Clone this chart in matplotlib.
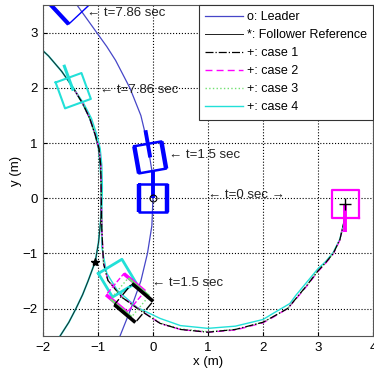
import numpy as np
import matplotlib
matplotlib.use('Agg')
import matplotlib.pyplot as plt

plt.rcParams['font.family'] = ['Liberation Sans', 'DejaVu Sans']

# leader path (o)
leader_x = [-0.60, -0.40, -0.22, -0.10, -0.02, 0.00, -0.02, -0.10, -0.22, -0.42, -0.55, -0.68, -0.84, -1.02, -1.20, -1.38, -1.55]
leader_y = [-2.50, -2.00, -1.50, -1.00, -0.50, 0.00, 0.50, 1.00, 1.50, 2.00, 2.25, 2.50, 2.75, 3.00, 3.25, 3.50, 3.70]

# follower reference (*)
ref_x = [-1.69, -1.53, -1.40, -1.28, -1.18, -1.05, -0.99, -0.95, -0.94, -0.94, -0.96, -0.99, -1.05, -1.15, -1.28, -1.45, -1.66, -1.90, -2.05]
ref_y = [-2.50, -2.25, -2.00, -1.75, -1.50, -1.15, -0.80, -0.40, 0.00, 0.30, 0.60, 0.90, 1.15, 1.45, 1.72, 2.00, 2.30, 2.58, 2.72]

# follower trajectories (+)
case1_x = [3.50, 3.47, 3.40, 3.28, 3.14, 3.00, 2.80, 2.60, 2.45, 2.20, 2.00, 1.50, 1.00, 0.50, 0.13, -0.24, -0.56, -0.82, -0.90, -0.93, -0.94, -0.95, -0.98, -1.05, -1.15, -1.28, -1.45]
case1_y = [-0.15, -0.45, -0.75, -1.00, -1.17, -1.32, -1.58, -1.82, -2.00, -2.14, -2.25, -2.38, -2.43, -2.38, -2.27, -2.03, -1.80, -1.49, -1.18, -0.58, 0.00, 0.60, 0.90, 1.15, 1.45, 1.72, 2.00]
case2_x = [3.50, 3.47, 3.40, 3.28, 3.14, 3.00, 2.80, 2.60, 2.45, 2.20, 2.00, 1.50, 1.00, 0.50, 0.13, -0.24, -0.56, -0.82, -0.90, -0.93, -0.94, -0.95, -0.98, -1.05, -1.15, -1.28, -1.45]
case2_y = [-0.15, -0.45, -0.76, -1.01, -1.18, -1.33, -1.59, -1.83, -2.00, -2.15, -2.26, -2.39, -2.43, -2.38, -2.27, -2.02, -1.79, -1.48, -1.17, -0.58, 0.00, 0.60, 0.90, 1.15, 1.45, 1.72, 2.00]
case3_x = [3.50, 3.47, 3.40, 3.28, 3.14, 3.00, 2.80, 2.60, 2.45, 2.20, 2.00, 1.50, 1.00, 0.50, 0.13, -0.24, -0.56, -0.82, -0.90, -0.93, -0.94, -0.95, -0.98, -1.05, -1.15, -1.28, -1.45]
case3_y = [-0.15, -0.45, -0.75, -1.00, -1.17, -1.32, -1.58, -1.82, -2.00, -2.14, -2.25, -2.38, -2.42, -2.37, -2.26, -2.02, -1.80, -1.49, -1.18, -0.58, 0.00, 0.60, 0.90, 1.15, 1.45, 1.72, 2.00]
case4_x = [3.50, 3.47, 3.40, 3.28, 3.14, 3.00, 2.80, 2.60, 2.49, 2.20, 2.00, 1.50, 1.00, 0.50, 0.13, -0.29, -0.65, -0.84, -0.93, -0.93, -0.92, -0.93, -0.96, -1.02, -1.12, -1.26, -1.45]
case4_y = [-0.15, -0.45, -0.74, -0.98, -1.15, -1.28, -1.52, -1.76, -1.91, -2.08, -2.20, -2.32, -2.36, -2.31, -2.18, -1.98, -1.67, -1.36, -0.89, -0.27, 0.20, 0.60, 0.90, 1.15, 1.45, 1.72, 2.00]

# robot poses: x, y, heading (deg)
leader_pose = [(0.00, 0.00, 90), (-0.05, 0.74, 100), (-1.52, 3.51, 133)]
case1_pose = (-0.35, -1.90, 140)
case2_pose = (-0.50, -1.72, 140)
case3_pose = (-0.42, -1.80, 140)
case4_pose = [(-0.65, -1.45, 121), (-1.45, 1.95, 110)]
follower_start = (3.50, -0.11, -90)

blue = '#0000ff'
path_blue = '#4646c8'
magenta = '#ff00ff'
cyan = '#22e0d8'
green = '#70e070'


def robot(ax, pose, color, lw=1.5, ls='-', wheels=False, wlw=3, head=True, hlw=2.5, size=0.5):
    # square body, optional thick wheel sides and heading stick
    cx, cy, th = pose
    t = np.radians(th)
    f = np.array([np.cos(t), np.sin(t)]) * size / 2
    l = np.array([-np.sin(t), np.cos(t)]) * size / 2
    c = np.array([cx, cy])
    pts = np.array([c + f + l, c - f + l, c - f - l, c + f - l, c + f + l])
    ax.plot(pts[:, 0], pts[:, 1], color=color, lw=lw, ls=ls)
    if wheels:
        for s in (1, -1):
            w = np.array([c - f + s * l, c + f + s * l])
            ax.plot(w[:, 0], w[:, 1], color=color, lw=wlw, solid_capstyle='butt')
    if head:
        h = np.array([c, c + 2 * f])
        ax.plot(h[:, 0], h[:, 1], color=color, lw=hlw, solid_capstyle='butt')


fig = plt.figure(figsize=(3.74, 3.73), dpi=100)
ax = fig.add_axes([0.115, 0.099, 0.882, 0.887])

ax.plot(leader_x, leader_y, color=path_blue, lw=0.9, label='o: Leader')
ax.plot(ref_x, ref_y, color=cyan, lw=1.3)
ax.plot(ref_x, ref_y, color='#202020', lw=0.7, label='*: Follower Reference')
ax.plot(case4_x, case4_y, color=cyan, lw=1.0, label='+: case 4')
ax.plot(case2_x, case2_y, color=magenta, lw=1.0, ls=(0, (5, 3)), label='+: case 2')
ax.plot(case3_x, case3_y, color=green, lw=1.0, ls=':', label='+: case 3')
ax.plot(case1_x, case1_y, color='k', lw=0.9, ls='-.', label='+: case 1')

# robots
robot(ax, leader_pose[0], blue, lw=1.8, wheels=True, wlw=3.2, hlw=2.8)
robot(ax, leader_pose[1], blue, lw=1.8, wheels=True, wlw=3.2, hlw=2.8)
robot(ax, leader_pose[2], blue, lw=1.0, wheels=True, wlw=3.0, hlw=2.8)
robot(ax, follower_start, magenta, lw=1.6, hlw=2.8)
robot(ax, case4_pose[0], cyan, lw=2.0, head=False)
robot(ax, case4_pose[1], cyan, lw=1.5, hlw=2.2)
robot(ax, case2_pose, magenta, lw=1.0, ls='--', wheels=True, wlw=2.6, head=False)
robot(ax, case3_pose, green, lw=1.0, ls=':', wheels=True, wlw=1.5, head=False)
robot(ax, case1_pose, 'k', lw=1.0, ls='-.', wheels=True, wlw=2.6, head=False)

# start markers
ax.plot(leader_x[5], leader_y[5], 'o', mfc='none', mec='k', ms=5, mew=0.8)
ax.plot(ref_x[5], ref_y[5], '*', color='k', ms=6)
ax.plot(follower_start[0], follower_start[1], '+', color='k', ms=8, mew=1)

# time labels
tc = '#222222'
fs = 9.5
ax.text(-1.20, 3.35, '\u2190 t=7.86 sec', fontsize=fs, color=tc, va='center')
ax.text(-0.97, 1.96, '\u2190 t=7.86 sec', fontsize=fs, color=tc, va='center')
ax.text(0.30, 0.78, '\u2190 t=1.5 sec', fontsize=fs, color=tc, va='center')
ax.text(-0.02, -1.53, '\u2190 t=1.5 sec', fontsize=fs, color=tc, va='center')
ax.text(1.0, 0.05, '\u2190 t=0 sec \u2192', fontsize=fs, color=tc, va='center')

ax.set_xlim(-2, 4)
ax.set_ylim(-2.5, 3.5)
ax.set_xticks([-2, -1, 0, 1, 2, 3, 4])
ax.set_yticks([-2, -1, 0, 1, 2, 3])
ax.grid(True, color='k', ls=':', lw=0.8)
ax.tick_params(direction='in', labelsize=9.5, length=3, pad=4)
ax.set_xlabel('x (m)', fontsize=9.5, labelpad=2)
ax.set_ylabel('y (m)', fontsize=9.5, labelpad=0)
for s in ax.spines.values():
    s.set_color('#555555')

h, lab = ax.get_legend_handles_labels()
order = ['o: Leader', '*: Follower Reference', '+: case 1', '+: case 2', '+: case 3', '+: case 4']
hs = [h[lab.index(o)] for o in order]
leg = ax.legend(hs, order, loc='upper right', bbox_to_anchor=(1, 1), borderaxespad=0,
                fontsize=9, handlelength=3.0, handletextpad=0.3, labelspacing=0.48,
                borderpad=0.5, fancybox=False, framealpha=1)
leg.get_frame().set_edgecolor('#333333')
leg.get_frame().set_linewidth(0.8)

fig.savefig('out.png', dpi=100)
